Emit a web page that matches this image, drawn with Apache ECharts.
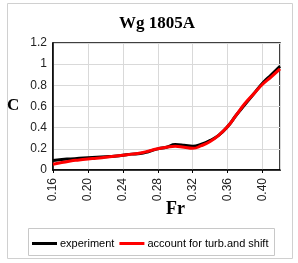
<!DOCTYPE html>
<html><head><meta charset="utf-8">
<script src="https://cdn.jsdelivr.net/npm/echarts@6/dist/echarts.min.js"></script>
<style>html,body{margin:0;padding:0;background:#fff}#c{width:298px;height:263px}</style>
</head><body><div id="c"></div>
<script>
var fr = [0.16,0.17,0.18,0.19,0.20,0.21,0.22,0.23,0.24,0.25,0.26,0.27,0.28,0.29,0.30,0.31,0.32,0.33,0.34,0.35,0.36,0.37,0.38,0.39,0.40,0.41,0.42];
var experiment = [0.09,0.10,0.105,0.11,0.115,0.12,0.125,0.13,0.14,0.15,0.155,0.175,0.20,0.215,0.24,0.235,0.225,0.245,0.28,0.33,0.41,0.52,0.62,0.72,0.82,0.90,0.98];
var turbShift = [0.055,0.07,0.085,0.095,0.105,0.11,0.12,0.13,0.14,0.15,0.16,0.18,0.20,0.215,0.225,0.215,0.205,0.23,0.27,0.33,0.41,0.52,0.63,0.72,0.81,0.88,0.955];
var seriesNames = ['experiment','account for turb.and shift'];
var titleText = 'Wg 1805A';
var xName = 'Fr', yName = 'C';

function pairs(ys){ return fr.map(function(x,i){return [x, ys[i]];}); }
var chart = echarts.init(document.getElementById('c'), null, {renderer:'canvas'});
chart.setOption({
  animation:false,
  backgroundColor:'#fff',
  title:{text:titleText,left:152,textAlign:'center',top:10,textStyle:{fontFamily:'Liberation Serif',fontWeight:'bold',fontSize:17,color:'#000'}},
  grid:{left:53,right:18,top:43,bottom:93,show:true,borderColor:'#000',borderWidth:1.5,containLabel:false},
  xAxis:{type:'value',min:0.16,max:0.42,interval:0.04,
    axisLine:{show:true,lineStyle:{color:'#000',width:1.5}},
    axisTick:{show:true,length:3,lineStyle:{color:'#000'}},
    splitLine:{show:true,lineStyle:{color:'#d9d9d9',width:1}},
    axisLabel:{rotate:90,margin:8,showMaxLabel:false,fontFamily:'Liberation Sans',fontSize:12,color:'#222',formatter:function(v){return v.toFixed(2);}}},
  yAxis:{type:'value',min:0,max:1.2,interval:0.2,
    axisLine:{show:true,lineStyle:{color:'#000',width:1.5}},
    axisTick:{show:false},
    splitLine:{show:true,lineStyle:{color:'#d9d9d9',width:1}},
    axisLabel:{margin:6,fontFamily:'Liberation Sans',fontSize:12,color:'#222'}},
  legend:{left:27,top:233,icon:'rect',itemWidth:25,itemHeight:3,itemGap:5,
    textStyle:{fontFamily:'Liberation Sans',fontSize:11,color:'#000',padding:[0,0,0,-2]},
    data:seriesNames},
  graphic:[
    {type:'rect',shape:{x:7.5,y:3.5,width:285,height:255},style:{fill:null,stroke:'#d0d0d0',lineWidth:1},silent:true},
    {type:'rect',shape:{x:28.5,y:228.5,width:246,height:27},style:{fill:null,stroke:'#c8c8c8',lineWidth:1},silent:true},
    {type:'text',left:7,top:97,style:{text:yName,font:'bold 17px "Liberation Serif"',fill:'#000'}},
    {type:'text',left:166,top:200,style:{text:xName,font:'bold 18px "Liberation Serif"',fill:'#000'}}
  ],
  series:[
    {name:seriesNames[0],type:'line',smooth:true,showSymbol:false,data:pairs(experiment),lineStyle:{color:'#000',width:3},itemStyle:{color:'#000'}},
    {name:seriesNames[1],type:'line',smooth:true,showSymbol:false,data:pairs(turbShift),lineStyle:{color:'#ff0000',width:3},itemStyle:{color:'#ff0000'}}
  ]
});
</script></body></html>
